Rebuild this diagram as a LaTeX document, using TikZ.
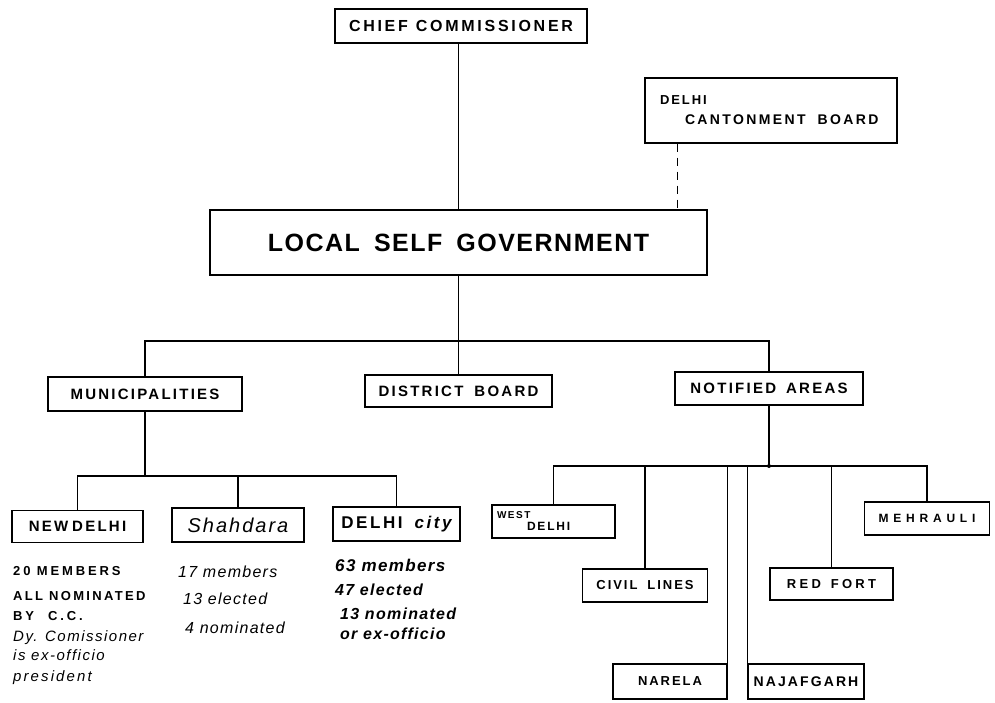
\documentclass[tikz,border=0pt]{standalone}
\usepackage{fontspec}
\setmainfont{Liberation Sans}
\usetikzlibrary{calc}
% extra tracking for the hand-lettered labels
\newcommand{\tracked}[1]{\addfontfeature{LetterSpace=#1}}
\begin{document}
\begin{tikzpicture}[x=1pt,y=-1pt,
  box/.style={draw, line width=1.4pt, rectangle, inner sep=0pt, align=center},
  lettering/.style n args={3}{font=\bfseries\fontsize{#1}{#2}\selectfont\tracked{#3}},
  penscript/.style n args={2}{font=\itshape\fontsize{#1}{#1}\selectfont\tracked{#2}},
  boldscript/.style n args={2}{font=\bfseries\itshape\fontsize{#1}{#1}\selectfont\tracked{#2}},
  note/.style={anchor=base west, inner sep=0pt},
  link/.style={line width=1.1pt},
]
\useasboundingbox (0,0) rectangle (995,703);

% --- top levels ---
\node[box, minimum width=252pt, minimum height=34pt, lettering={16}{16}{17}] (cc) at (461,26)
  {CHIEF\hspace{8pt}COMMISSIONER};
\node[box, minimum width=252pt, minimum height=65pt, text width=222pt, align=left,
      lettering={14}{20}{17}] (dcb) at (771,110.5)
  {{\fontsize{13}{20}\selectfont\tracked{15}DELHI}\\\hspace*{25pt}CANTONMENT\hspace{12pt}BOARD};
\node[box, minimum width=497pt, minimum height=65pt, lettering={25}{25}{6}] (lsg) at (458.5,242.5)
  {LOCAL\hspace{14pt}SELF\hspace{14pt}GOVERNMENT};

% --- second level ---
\node[box, minimum width=194pt, minimum height=34pt, lettering={15}{15}{15}] (mun) at (145,394)
  {MUNICIPALITIES};
\node[box, minimum width=187pt, minimum height=32pt, lettering={15}{15}{15}] (db) at (458.5,391)
  {DISTRICT\hspace{11pt}BOARD};
\node[box, minimum width=188pt, minimum height=33pt, lettering={15}{15}{15}] (na) at (769,388.5)
  {NOTIFIED\hspace{10pt}AREAS};

% --- municipalities ---
\node[box, minimum width=131pt, minimum height=32pt, lettering={15}{15}{15}] (nd) at (77.5,526.5)
  {NEW\hspace{4pt}DELHI};
\node[box, minimum width=132pt, minimum height=34pt, penscript={20}{10}] (sh) at (238,525)
  {Shahdara};
\node[box, minimum width=127pt, minimum height=34pt, lettering={17}{17}{15}] (dc) at (396.5,524)
  {DELHI\hspace{12pt}{\itshape city}};

% --- notified areas ---
\node[box, minimum width=123pt, minimum height=33pt, text width=113pt, align=left,
      lettering={12}{12}{15}] (wd) at (553.5,521.5)
  {{\fontsize{10}{12}\selectfont\tracked{15}WEST}\\\hspace*{30pt}DELHI};
\node[box, minimum width=125pt, minimum height=33pt, lettering={13}{13}{15}] (cl) at (645,585.5)
  {CIVIL\hspace{10pt}LINES};
\node[box, minimum width=123pt, minimum height=32pt, lettering={13}{13}{25}] (rf) at (831.5,584)
  {RED\hspace{10pt}FORT};
\node[box, minimum width=125pt, minimum height=33pt, lettering={12}{12}{40}] (me) at (927,518.5)
  {MEHRAULI};
\node[box, minimum width=114pt, minimum height=35pt, lettering={13}{13}{15}] (nr) at (670,681.5)
  {NARELA};
\node[box, minimum width=116pt, minimum height=35pt, lettering={14}{14}{15}] (nj) at (806,681.5)
  {NAJAFGARH};

% --- notes under the municipalities ---
\node[note, lettering={13}{13}{22}] (nd1) at (13,575) {20 MEMBERS};
\node[note, lettering={13}{13}{18}] (nd2) at (13,600) {ALL NOMINATED};
\node[note, lettering={13}{13}{22}] (nd3) at (13,620) {BY\hspace{14pt}C.\hspace{3pt}C.};
\node[note, penscript={15}{10}] (nd4) at (13,641) {Dy. Comissioner};
\node[note, penscript={15}{10}] (nd5) at (13,660) {is ex-officio};
\node[note, penscript={15}{14}] (nd6) at (13,681) {president};

\node[note, penscript={16}{8}] (sh1) at (178,577) {17 members};
\node[note, penscript={16}{8}] (sh2) at (183,604) {13 elected};
\node[note, penscript={16}{8}] (sh3) at (185,633) {4 nominated};

\node[note, boldscript={17}{8}] (dc1) at (335,571) {63 members};
\node[note, boldscript={16}{8}] (dc2) at (335,595) {47 elected};
\node[note, boldscript={16}{8}] (dc3) at (340,619) {13 nominated};
\node[note, boldscript={16}{8}] (dc4) at (340,639) {or ex-officio};

% --- connectors ---
\coordinate (j1) at (458.5,341);
\coordinate (j2) at (145,476);
\coordinate (j3) at (769,466);

\draw[link] (lsg.north) -- (lsg.north |- cc.south);
\draw[link, dash pattern=on 8pt off 6pt] ($(dcb.south west)+(33,0)$) coordinate (cbfoot)
  -- (cbfoot |- lsg.north);

\draw[link] (lsg.south) -- (db.north);
\draw[link] (mun.north) |- (j1) -| (na.north);

\draw[link] (mun.south) -- (j2);
\draw[link] (nd.north) |- (j2) -| (dc.north);
\draw[link] (sh.north) -- (sh.north |- j2);

\draw[link] (na.south) -- (j3);
\draw[link] (wd.north) |- (j3) -| (me.north);
\draw[link] (cl.north) -- (cl.north |- j3);
\draw[link] (nr.north east) -- (nr.north east |- j3);
\draw[link] (nj.north west) -- (nj.north west |- j3);
\draw[link] (rf.north) -- (rf.north |- j3);
\fill (j3) circle (2pt);
\end{tikzpicture}
\end{document}
